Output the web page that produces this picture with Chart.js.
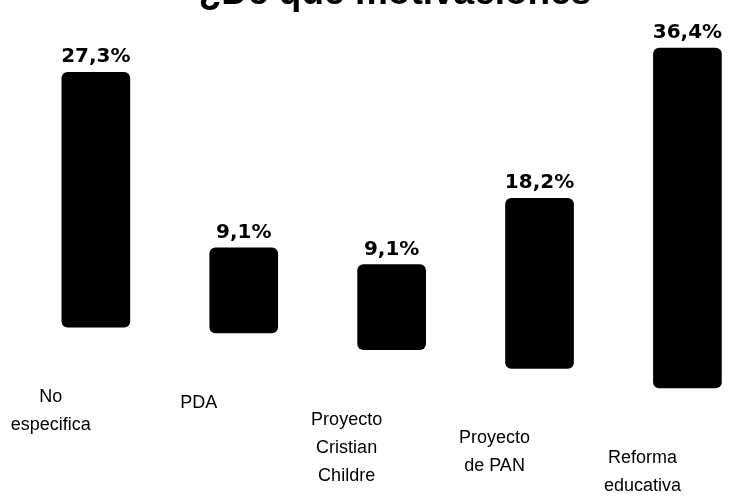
<!DOCTYPE html>
<html>
<head>
<meta charset="utf-8">
<script src="https://cdn.jsdelivr.net/npm/chart.js@4/dist/chart.umd.min.js"></script>
<style>
  html, body { margin: 0; padding: 0; background: #fff; }
  #wrap { position: relative; width: 742px; height: 501px; overflow: hidden; }
</style>
</head>
<body>
<div id="wrap"><canvas id="chart"></canvas></div>
<script>
// data
const categories = [['No', 'especifica'], ['PDA'], ['Proyecto', 'Cristian', 'Childre'], ['Proyecto', 'de PAN'], ['Reforma', 'educativa']];
const values = [27.3, 9.1, 9.1, 18.2, 36.4];
// the bars float: each one starts a bit higher than the next (slanted base in the scan)
const baseOffsets = [6.5, 5.9, 4.1, 2.1, 0];
const valueLabels = ['27,3%', '9,1%', '9,1%', '18,2%', '36,4%'];
const titleText = '¿De qué motivaciones';

let barData = [];
for (let i = 0; i < values.length; i++) {
  barData.push({x: i, y: [baseOffsets[i], baseOffsets[i] + values[i]]});
}

const textPlugin = {
  id: 'textPlugin',
  afterDatasetsDraw(chart) {
    const ctx = chart.ctx;
    const meta = chart.getDatasetMeta(0);
    ctx.save();
    ctx.fillStyle = '#000';
    ctx.textAlign = 'center';

    // title, only the bottom of the letters shows at the page edge
    ctx.font = 'bold 37px "Liberation Sans"';
    ctx.textBaseline = 'alphabetic';
    ctx.fillText(titleText, chart.width / 2 + 24, 4);

    meta.data.forEach((bar, i) => {
      // value above the bar
      ctx.font = 'bold 20px "DejaVu Sans"';
      ctx.textBaseline = 'alphabetic';
      ctx.fillText(valueLabels[i], bar.x, bar.y - 10);

      // category under the bar, stepping down with the base
      ctx.font = '18px "Liberation Sans"';
      ctx.textBaseline = 'middle';
      categories[i].forEach((line, k) => {
        ctx.fillText(line, bar.x - 45, bar.base + 70 + k * 28);
      });
    });
    ctx.restore();
  }
};

const ctx = document.getElementById('chart').getContext('2d');
const myChart = new Chart(ctx, {
  type: 'bar',
  data: {
    datasets: [{
      data: barData,
      backgroundColor: '#000',
      borderRadius: 6,
      borderSkipped: false,
      barThickness: 68
    }]
  },
  options: {
    responsive: true,
    maintainAspectRatio: false,
    animation: false,
    layout: { padding: 0 },
    plugins: {
      legend: { display: false },
      title: { display: false },
      tooltip: { enabled: false }
    },
    scales: {
      x: { type: 'linear', min: -0.648, max: 4.369, offset: false, display: false },
      y: { min: -12.1, max: 41.54, display: false }
    }
  },
  plugins: [textPlugin]
});
</script>
</body>
</html>
